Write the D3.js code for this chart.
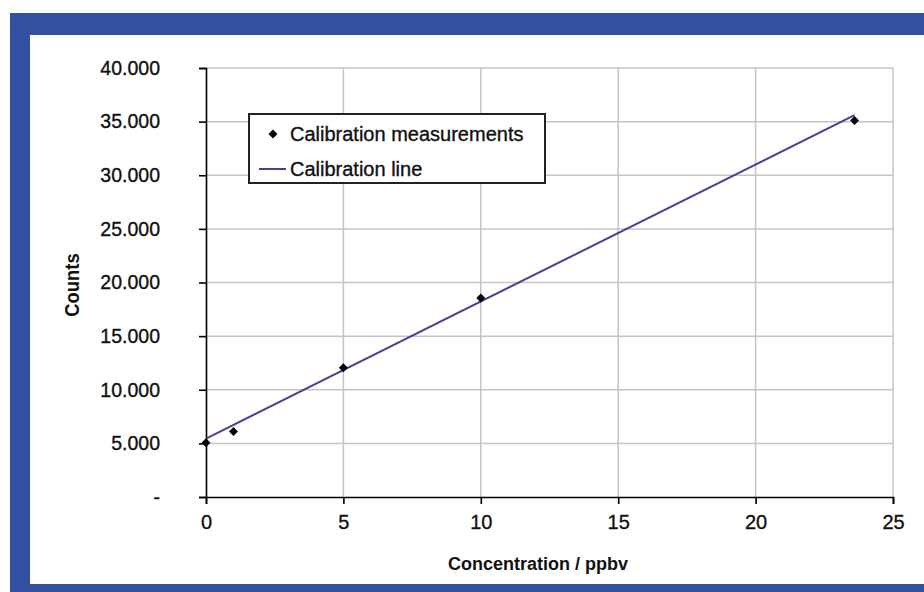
<!DOCTYPE html>
<html><head><meta charset="utf-8">
<script src="https://cdn.jsdelivr.net/npm/d3@7"></script>
<style>body{margin:0;background:#fff}svg{display:block}text{font-family:"Liberation Sans",Arial,sans-serif}</style>
</head><body><svg id="c" width="924" height="592"></svg>
<script>
const concentrations=[0,1,5,10,23.6];
const counts=[5050,6100,12050,18550,35100];
const lineX=[0,23.6];
const lineY=[5450,35600];
const xTicks=[0,5,10,15,20,25];
const yTicks=[0,5000,10000,15000,20000,25000,30000,35000,40000];
const yTickLabels=["-","5.000","10.000","15.000","20.000","25.000","30.000","35.000","40.000"];
const legendLabels=["Calibration measurements","Calibration line"];
const xTitle="Concentration / ppbv", yTitle="Counts";

const svg=d3.select("#c");
const blue="#3350a1";
// frame
svg.append("rect").attr("x",10).attr("y",13).attr("width",914).attr("height",579).attr("fill",blue);
svg.append("rect").attr("x",30).attr("y",35).attr("width",894).attr("height",549).attr("fill","#fff");

const x=d3.scaleLinear().domain([0,25]).range([206,893]);
const y=d3.scaleLinear().domain([0,40000]).range([497,68]);
const grid="#c4c4c4";
// grid
svg.append("g").selectAll("line").data(yTicks.filter(d=>d>0)).join("line")
 .attr("x1",x(0)).attr("x2",x(25)).attr("y1",d=>y(d)).attr("y2",d=>y(d)).attr("stroke",grid).attr("stroke-width",1.5);
svg.append("g").selectAll("line").data(xTicks.filter(d=>d>0)).join("line")
 .attr("y1",y(0)).attr("y2",y(40000)).attr("x1",d=>x(d)).attr("x2",d=>x(d)).attr("stroke",grid).attr("stroke-width",1.5);

// axes
const xa=svg.append("g").attr("transform",`translate(0,${y(0)})`)
 .call(d3.axisBottom(x).tickValues(xTicks).tickSize(7).tickPadding(11).tickFormat(d3.format("d")));
const ya=svg.append("g").attr("transform",`translate(${x(0)},0)`)
 .call(d3.axisLeft(y).tickValues(yTicks).tickSize(7).tickPadding(39).tickFormat((d,i)=>yTickLabels[i]));
[xa,ya].forEach(a=>{a.select(".domain").attr("stroke","#000").attr("stroke-width",1.6);
 a.selectAll(".tick line").attr("stroke","#000").attr("stroke-width",1.6);
 a.selectAll("text").attr("fill","#111").attr("stroke","#111").attr("stroke-width",0.35)
  .style("font-size","19.5px").style("font-family","'Liberation Sans',Arial,sans-serif");});
xa.selectAll("text").style("font-size","20px");

// calibration line
const lineData=lineX.map((v,i)=>[v,lineY[i]]);
svg.append("path").datum(lineData).attr("d",d3.line().x(d=>x(d[0])).y(d=>y(d[1])))
 .attr("fill","none").attr("stroke","#4a3f90").attr("stroke-width",2);
// points (rotated squares)
const marker=d3.symbol().type(d3.symbolSquare).size(40);
svg.append("g").selectAll("path").data(concentrations.map((c,i)=>[c,counts[i]])).join("path")
 .attr("d",marker).attr("transform",d=>`translate(${x(d[0])},${y(d[1])}) rotate(45)`).attr("fill","#000");

// titles
svg.append("text").attr("x",538).attr("y",570).attr("text-anchor","middle").attr("font-weight","bold").style("font-size","18px").attr("fill","#111").text(xTitle);
svg.append("text").attr("transform","translate(79,285) rotate(-90) scale(0.92,1)").attr("text-anchor","middle").attr("font-weight","bold").style("font-size","20px").attr("fill","#111").text(yTitle);

// legend
const lg=svg.append("g");
lg.append("rect").attr("x",249).attr("y",114).attr("width",296).attr("height",69).attr("fill","#fff").attr("stroke","#222").attr("stroke-width",2);
lg.append("path").attr("d",marker).attr("transform","translate(273,134) rotate(45)").attr("fill","#000");
lg.append("line").attr("x1",259).attr("x2",286).attr("y1",169).attr("y2",169).attr("stroke","#4a3f90").attr("stroke-width",2);
lg.selectAll("text").data(legendLabels).join("text").attr("x",290).attr("y",(d,i)=>141+i*35)
 .style("font-size","20px").attr("fill","#111").attr("stroke","#111").attr("stroke-width",0.35).text(d=>d);
</script></body></html>
